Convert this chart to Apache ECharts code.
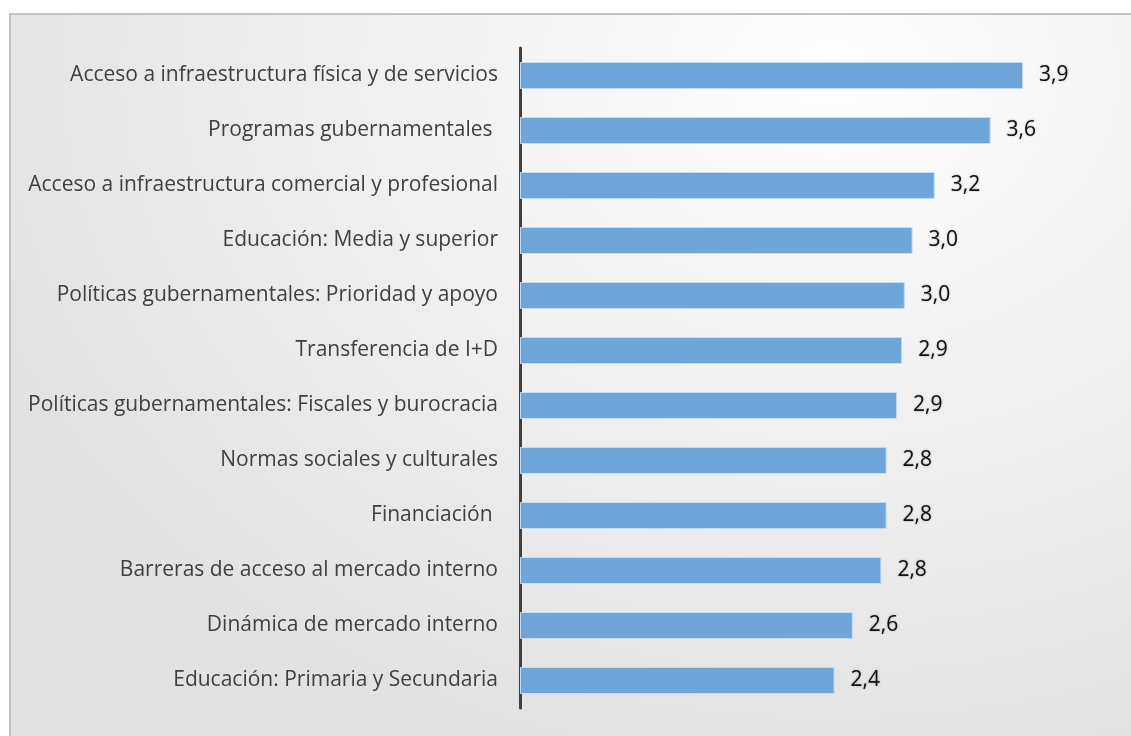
<!DOCTYPE html>
<html>
<head>
<meta charset="utf-8">
<script src="https://cdn.jsdelivr.net/npm/echarts@6/dist/echarts.min.js"></script>
<style>
  html, body { margin: 0; padding: 0; background: #fff; }
  .frame {
    position: absolute; left: 9px; top: 13px; width: 1130px; height: 730px;
    border: 2px solid #c3c3c3;
    background: radial-gradient(ellipse 900px 700px at 820px 60px, #fefefe 0%, #f3f3f3 40%, #e2e2e2 100%);
  }
  #chart { position: absolute; left: 0; top: 0; width: 1131px; height: 736px; }
</style>
</head>
<body>
<div class="frame"></div>
<div id="chart"></div>
<script>
// categorías (de arriba hacia abajo)
const categories = [
  'Acceso a infraestructura física y de servicios',
  'Programas gubernamentales ',
  'Acceso a infraestructura comercial y profesional',
  'Educación: Media y superior',
  'Políticas gubernamentales: Prioridad y apoyo',
  'Transferencia de I+D',
  'Políticas gubernamentales: Fiscales y burocracia',
  'Normas sociales y culturales',
  'Financiación ',
  'Barreras de acceso al mercado interno',
  'Dinámica de mercado interno',
  'Educación: Primaria y Secundaria'
]
// valores estimados a partir del largo de las barras
const values = [3.87, 3.62, 3.19, 3.02, 2.96, 2.94, 2.90, 2.82, 2.82, 2.78, 2.56, 2.42]

const chart = echarts.init(document.getElementById('chart'))

chart.setOption({
  backgroundColor: 'transparent',
  animation: false,
  grid: { left: 520, top: 48, width: 585, height: 660 },
  xAxis: {
    type: 'value',
    min: 0,
    max: 4.5,
    show: false
  },
  yAxis: {
    type: 'category',
    inverse: true,
    data: categories,
    axisLine: { show: true, lineStyle: { color: '#404040', width: 3 } },
    axisTick: { show: false },
    axisLabel: {
      color: '#404040',
      fontFamily: 'Open Sans',
      fontSize: 21,
      margin: 22
    }
  },
  series: [
    {
      type: 'bar',
      data: values,
      barWidth: 27,
      itemStyle: { color: '#6fa5d9', borderColor: '#c4dcf1', borderWidth: 1 },
      label: {
        show: true,
        position: 'right',
        distance: 16,
        color: '#111',
        fontFamily: 'Open Sans',
        fontSize: 21,
        textShadowColor: 'rgba(0,0,0,0.35)',
        textShadowBlur: 2,
        formatter: p => p.value.toFixed(1).replace('.', ',')
      }
    }
  ]
})
</script>
</body>
</html>
